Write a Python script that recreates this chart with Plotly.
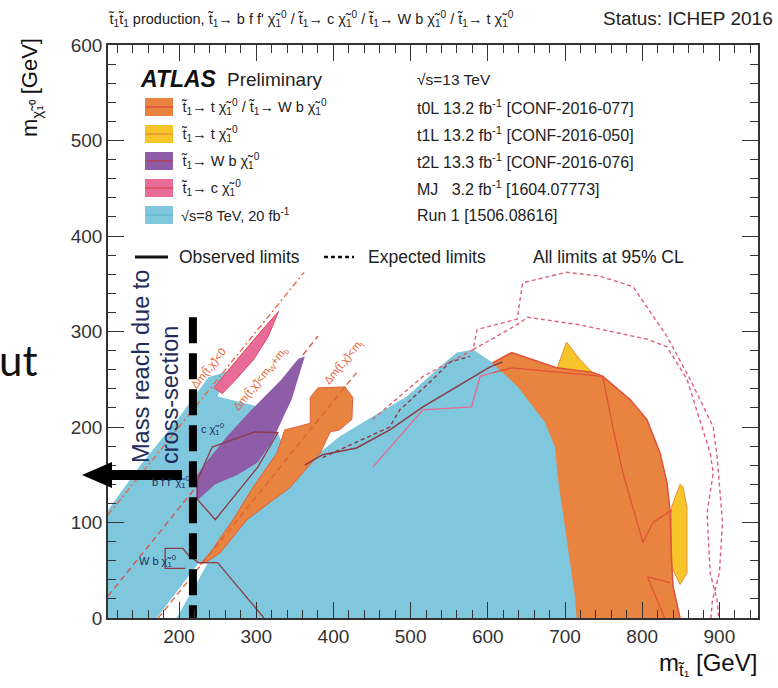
import plotly.graph_objects as go

# ---------------- data (GeV) ----------------
X_RANGE = [108, 950]
Y_RANGE = [0, 600]
X_TICKS = [200, 300, 400, 500, 600, 700, 800, 900]
Y_TICKS = [0, 100, 200, 300, 400, 500, 600]

# Run 1 excluded region (cyan)
run1_x = [108, 108, 150, 200, 238, 262, 250, 270, 300, 328, 335, 344, 386, 408, 451, 495, 538, 560, 581, 607, 641, 676, 689, 693, 702, 715, 717]
run1_y = [0, 113, 160, 210, 252, 258, 232, 228, 222, 194, 180, 148, 176, 190, 211, 232, 263, 278, 281, 267, 242, 205, 179, 145, 92, 22, 0]
# white gap along m_t line
gap_x = [171, 197, 237, 225]
gap_y = [0, 0, 57, 57]
# t0L, large region
t0l_x = [606, 631, 689, 736, 749, 784, 806, 823, 832, 836, 838, 840, 849, 715, 713, 700, 691, 687, 674, 639]
t0l_y = [267, 278, 262, 257, 253, 229, 208, 173, 142, 113, 61, 33, 0, 0, 22, 92, 145, 179, 205, 242]
# t0L, diagonal band
t0lb_x = [227, 240, 270, 296, 327, 337, 357, 370, 370, 380, 415, 425, 424, 408, 396, 383, 344, 288, 253, 236]
t0lb_y = [56, 68, 103, 137, 173, 197, 201, 204, 231, 241, 242, 231, 208, 197, 195, 173, 137, 103, 68, 59]
# t2L (purple)
t2l_x = [222, 222, 234, 262, 294, 333, 354, 363, 346, 328, 320, 302, 276, 247]
t2l_y = [122, 148, 162, 190, 218, 250, 271, 274, 229, 197, 184, 163, 150, 140]
# MJ (pink)
mj_x = [245, 263, 285, 307, 329, 315, 297, 274, 256]
mj_y = [241, 259, 280, 301, 321, 294, 271, 250, 235]
# t1L (yellow)
t1la_x = [690, 702, 719, 737]
t1la_y = [262, 289, 271, 256]
t1lb_x = [849, 838, 838, 849, 858, 858, 853]
t1lb_y = [140, 116, 54, 35, 47, 116, 137]

# observed / expected contours
t0l_obs_x = t0l_x[:13]
t0l_obs_y = t0l_y[:13]
t1l_obs_pink_x = [451, 516, 579, 590, 607]
t1l_obs_pink_y = [158, 218, 221, 253, 257]
t1l_obs_red_x = [607, 631, 749, 762, 775, 801, 814, 838]
t1l_obs_red_y = [257, 262, 253, 200, 152, 79, 100, 113]
t1l_obs_v_x = [836, 807, 829]
t1l_obs_v_y = [37, 43, 0]
exp_outer_x = [451, 486, 516, 581, 586, 638, 645, 702, 745, 788, 832, 862, 892, 897, 904, 900, 891, 889]
exp_outer_y = [208, 232, 253, 281, 302, 313, 351, 362, 358, 347, 295, 250, 200, 169, 100, 47, 19, 0]
exp_inner_x = [581, 642, 651, 719, 806, 832, 858, 888, 892, 884, 888, 897, 899]
exp_inner_y = [281, 309, 315, 307, 292, 284, 250, 173, 152, 110, 47, 19, 0]
t2l_obs_x = [363, 386, 430, 473, 516, 560, 603, 619]
t2l_obs_y = [160, 171, 178, 197, 221, 242, 263, 268]
t2l_exp_x = [386, 430, 473, 486, 525, 551, 577]
t2l_exp_y = [168, 184, 200, 218, 247, 268, 274]
t2l_box_x = [224, 243, 298, 328, 302, 247, 224, 224]
t2l_box_y = [145, 179, 195, 194, 158, 103, 124, 145]
wb_obs_x = [208, 182, 182, 205, 212, 225, 250, 310]
wb_obs_y = [52, 52, 73, 73, 66, 58, 58, 0]

# kinematic limits
kin0_x, kin0_y = [108, 362], [108, 362]
kin1_x, kin1_y = [108, 380], [23, 295]
kin2_x, kin2_y = [173, 430], [0, 257]

# cross-section reach marker
reach_x = [218, 218]
reach_y = [315, -5]

# ---------------- styling ----------------
T = "t\u0303"
CHI = "\u03c7\u0303"
T1 = T + "<sub>1</sub>"
N1 = CHI + "<sub>1</sub><sup>0</sup>"
FONT = "Liberation Sans, Arial, Helvetica, sans-serif"
C_OR = "#E8843F"
C_YE = "#F7C52A"
C_PU = "#8F5CA8"
C_PI = "#E96C98"
C_CY = "#7EC7DC"
C_RED = "#E2503A"
C_DARK = "#8C3A46"
C_EXP = "#E0607C"
C_KIN = "#E8643E"
NAVY = "#1F2D5C"

fig = go.Figure()


def poly(x, y, fill, lc=None, w=0):
    fig.add_trace(go.Scatter(x=x + [x[0]], y=y + [y[0]], mode="lines", fill="toself",
                             fillcolor=fill, line=dict(color=lc or fill, width=w),
                             hoverinfo="skip", showlegend=False))


def path(x, y, color, w=1.4, dash="solid"):
    fig.add_trace(go.Scatter(x=x, y=y, mode="lines", line=dict(color=color, width=w, dash=dash),
                             hoverinfo="skip", showlegend=False))


poly(run1_x, run1_y, C_CY)
poly(gap_x, gap_y, "white")
path(kin0_x, kin0_y, C_KIN, 1.3, "6px,3px,2px,3px")
path(kin1_x, kin1_y, "#D2584C", 1.4, "6px,4px")
poly(t0l_x, t0l_y, C_OR)
poly(t0lb_x, t0lb_y, C_OR, "#E0603A", 1.0)
path(kin2_x, kin2_y, "#E0603A", 1.3, "6px,4px")
poly(t2l_x, t2l_y, C_PU)
poly(mj_x, mj_y, C_PI, "#E0485A", 1.0)
poly(t1la_x, t1la_y, C_YE, "#E8903A", 1.0)
poly(t1lb_x, t1lb_y, C_YE, "#E8903A", 1.0)

path(t0l_obs_x, t0l_obs_y, C_RED, 1.5)
path(t1l_obs_pink_x, t1l_obs_pink_y, "#E46A92", 1.4)
path(t1l_obs_red_x, t1l_obs_red_y, C_RED, 1.3)
path(t1l_obs_v_x, t1l_obs_v_y, C_RED, 1.3)
path(exp_outer_x, exp_outer_y, C_EXP, 1.4, "4px,3px")
path(exp_inner_x, exp_inner_y, C_EXP, 1.4, "4px,3px")
path(t2l_obs_x, t2l_obs_y, C_DARK, 1.5)
path(t2l_exp_x, t2l_exp_y, C_DARK, 1.4, "4px,3px")
path(t2l_box_x, t2l_box_y, C_DARK, 1.3)
path(wb_obs_x, wb_obs_y, C_DARK, 1.3)
path(reach_x, reach_y, "black", 8, "26px,10px")

# ---------------- layout helpers (pixel -> paper) ----------------
L, R, TOP, B = 108, 20, 45, 70
W, H = 778, 688
PW, PH = W - L - R, H - TOP - B


def px(x):
    return (x - L) / PW


def py(y):
    return (H - B - y) / PH


ann = []


def text(s, x, y, size=14, color="#222", xa="left", ya="middle", angle=0, fam=FONT):
    ann.append(dict(text=s, x=px(x), y=py(y), xref="paper", yref="paper", showarrow=False,
                    xanchor=xa, yanchor=ya, textangle=angle,
                    font=dict(family=fam, size=size, color=color)))


def dtext(s, x, y, size=11, color=NAVY, angle=0):
    ann.append(dict(text=s, x=x, y=y, xref="x", yref="y", showarrow=False, textangle=angle,
                    font=dict(family=FONT, size=size, color=color)))


# header
text(f"{T1}{T1} production, {T1}→ b f f' {N1} / {T1}→ c {N1} / {T1}→ W b {N1} / {T1}→ t {N1}",
     106, 19, 14.5, "#222")
text("Status: ICHEP 2016", 775, 19, 19, "#222", xa="right")

# legend block
text("<b><i>ATLAS</i></b>", 138, 79, 23, "#111")
text("Preliminary", 225, 80, 19, "#222")
shapes = []
rows = [107, 134, 161, 188, 215]
fills = [C_OR, C_YE, C_PU, C_PI, C_CY]
mids = [C_RED, "#E8903A", "#B0405A", "#E0485A", "#66B8D2"]
labels = [f"{T1}→ t {N1} / {T1}→ W b {N1}", f"{T1}→ t {N1}", f"{T1}→ W b {N1}",
          f"{T1}→ c {N1}", "√s=8 TeV, 20 fb<sup>-1</sup>"]
refs = ["√s=13 TeV", "t0L 13.2 fb<sup>-1</sup> [CONF-2016-077]", "t1L 13.2 fb<sup>-1</sup> [CONF-2016-050]",
        "t2L 13.3 fb<sup>-1</sup> [CONF-2016-076]", "MJ   3.2 fb<sup>-1</sup> [1604.07773]", "Run 1 [1506.08616]"]
for r, f, m, lab in zip(rows, fills, mids, labels):
    shapes.append(dict(type="rect", xref="paper", yref="paper", x0=px(145), x1=px(173),
                       y0=py(r + 9), y1=py(r - 9), fillcolor=f, line=dict(width=0)))
    shapes.append(dict(type="line", xref="paper", yref="paper", x0=px(145), x1=px(173),
                       y0=py(r), y1=py(r), line=dict(color=m, width=1.5)))
    text(lab, 179, r, 14.5)
text(refs[0], 415, 80, 15.5)
for r, s in zip(rows, refs[1:]):
    text(s, 415, r, 16)

shapes.append(dict(type="line", xref="paper", yref="paper", x0=px(135), x1=px(168),
                   y0=py(257), y1=py(257), line=dict(color="#111", width=3)))
text("Observed limits", 177, 257, 17.5)
shapes.append(dict(type="line", xref="paper", yref="paper", x0=px(324), x1=px(354),
                   y0=py(257), y1=py(257), line=dict(color="#111", width=2.5, dash="4px,3px")))
text("Expected limits", 366, 257, 17.5)
text("All limits at 95% CL", 531, 257, 17.5)

# kinematic labels
dtext(f"Δm({T},{CHI})<0", 238, 262, 11, C_KIN, -51)
dtext(f"Δm({T},{CHI})<m<sub>W</sub>+m<sub>b</sub>", 306, 250, 11, C_KIN, -51)
dtext(f"Δm({T},{CHI})<m<sub>t</sub>", 414, 268, 11, C_KIN, -51)
dtext(f"c {N1}", 244, 198, 11)
dtext(f"W b {N1}", 172, 60, 11)
dtext(f"b f f' {N1}", 190, 142, 11)

# cross-section reach annotation
text("Mass reach due to", 141, 367, 23.5, NAVY, xa="center", angle=-90)
text("cross-section", 170, 395, 23.5, NAVY, xa="center", angle=-90)
ax0, ax1, ah, aw, sw = 82, 182, 112, 13, 5
arrow = (f"M {px(ax1)},{py(475 - sw)} L {px(ah)},{py(475 - sw)} L {px(ah)},{py(475 - aw)} "
         f"L {px(ax0)},{py(475)} L {px(ah)},{py(475 + aw)} L {px(ah)},{py(475 + sw)} "
         f"L {px(ax1)},{py(475 + sw)} Z")
shapes.append(dict(type="path", xref="paper", yref="paper", path=arrow, fillcolor="black",
                   line=dict(width=0), layer="above"))

# slide fragment at the left edge
text("ut", -3, 360, 42, "#111", fam="Lato, Open Sans, sans-serif")

# axis titles
text(f"m<sub>{CHI}₁⁰</sub> [GeV]", 31, 88, 22, "#111", xa="center", angle=-90)
text(f"m<sub>{T}₁</sub> [GeV]", 759, 665, 24, "#111", xa="right")

axis_common = dict(showgrid=False, zeroline=False, showline=True, linecolor="#333", linewidth=1.5,
                   mirror="allticks", ticks="inside", ticklen=16, tickwidth=1.3, tickcolor="#333",
                   tickfont=dict(family=FONT, size=19, color="#333"))
fig.update_layout(
    width=W, height=H, margin=dict(l=L, r=R, t=TOP, b=B),
    paper_bgcolor="white", plot_bgcolor="white", showlegend=False,
    xaxis=dict(range=X_RANGE, tickvals=X_TICKS,
               minor=dict(dtick=20, tick0=0, ticks="inside", ticklen=8, tickcolor="#333", tickwidth=1.2),
               **axis_common),
    yaxis=dict(range=Y_RANGE, tickvals=Y_TICKS,
               minor=dict(dtick=20, tick0=0, ticks="inside", ticklen=8, tickcolor="#333", tickwidth=1.2),
               **axis_common),
    annotations=ann, shapes=shapes,
)

fig.write_html("out.html")
